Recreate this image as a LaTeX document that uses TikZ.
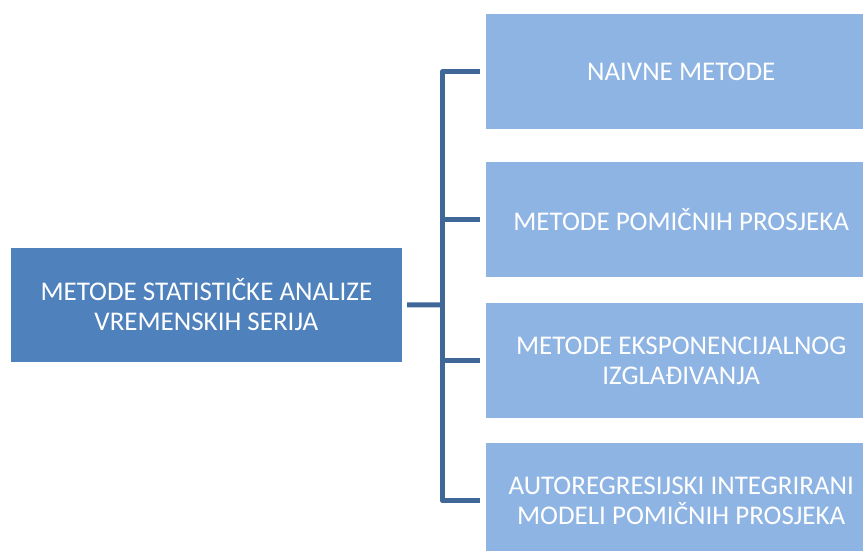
\documentclass[tikz,border=0pt]{standalone}
\usepackage{fontspec}
\setmainfont{Carlito}
\definecolor{rootblue}{HTML}{4F81BD}
\definecolor{leafblue}{HTML}{8EB4E3}
\definecolor{linkblue}{HTML}{3F6797}
\begin{document}
\begin{tikzpicture}[x=1pt,y=-1pt,
  rootbox/.style={fill=rootblue,draw=none,minimum width=391pt,minimum height=114.5pt,anchor=north west,inner sep=0pt,text=white,align=center,font=\fontsize{27}{29.5}\selectfont},
  leafbox/.style={fill=leafblue,draw=none,minimum width=390pt,minimum height=115pt,anchor=north west,inner sep=0pt,text=white,align=center,font=\fontsize{27}{29.5}\selectfont},
  conn/.style={draw=linkblue,line width=5pt,line join=round}]
\useasboundingbox (0,0) rectangle (863,550);
\node[rootbox] (root) at (10.7,247.3) {METODE STATISTIČKE ANALIZE\\VREMENSKIH SERIJA};
\node[leafbox] (b1) at (486,14) {NAIVNE METODE};
\node[leafbox] (b2) at (486,162) {METODE POMIČNIH PROSJEKA};
\node[leafbox] (b3) at (486,303) {METODE EKSPONENCIJALNOG\\IZGLAĐIVANJA};
\node[leafbox] (b4) at (486,443) {AUTOREGRESIJSKI INTEGRIRANI\\MODELI POMIČNIH PROSJEKA};
\coordinate (spine) at (442.5,305);
\draw[conn,shorten <=6pt,shorten >=6pt] (b1.west) -| (spine) |- (b4.west);
\draw[conn,shorten <=5pt] (root.east) -- (spine);
\draw[conn,shorten >=6pt] (spine |- b2.west) -- (b2.west);
\draw[conn,shorten >=6pt] (spine |- b3.west) -- (b3.west);
\end{tikzpicture}
\end{document}
